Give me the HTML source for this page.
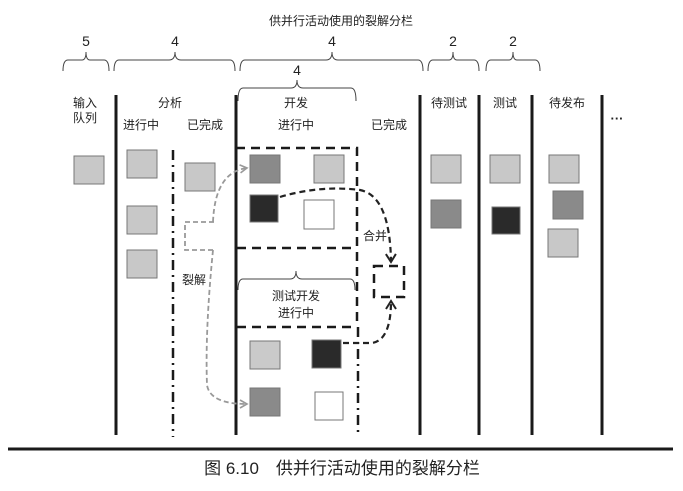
<!DOCTYPE html>
<html><head><meta charset="utf-8"><style>
html,body{margin:0;padding:0;background:#fff;}
svg{display:block;}
text{font-family:"Liberation Sans","Noto Sans CJK SC",sans-serif;fill:#222;}
</style></head><body>
<svg width="683" height="491" viewBox="0 0 683 491" xmlns="http://www.w3.org/2000/svg">
<defs>
<marker id="ga" markerWidth="10" markerHeight="10" refX="8" refY="5" orient="auto" markerUnits="userSpaceOnUse"><path d="M1,1 L8,5 L1,9" fill="none" stroke="#999" stroke-width="1.6"/></marker>
<marker id="ba" markerWidth="12" markerHeight="12" refX="9" refY="6" orient="auto" markerUnits="userSpaceOnUse"><path d="M1,1 L9,6 L1,11" fill="none" stroke="#222" stroke-width="2"/></marker>
</defs>
<text x="341" y="25" font-size="12" text-anchor="middle">供并行活动使用的裂解分栏</text>
<g font-size="14" text-anchor="middle">
<text x="86" y="46">5</text><text x="175" y="46">4</text><text x="332" y="46">4</text>
<text x="453" y="46">2</text><text x="513" y="46">2</text><text x="297" y="75">4</text>
</g>
<g fill="none" stroke="#444" stroke-width="1">
<path d="M63,71 Q63,60 68,60 L82,60 Q86,60 86,52 Q86,60 90,60 L104,60 Q109,60 109,71"/>
<path d="M114,71 Q114,60 119,60 L169,60 Q175,60 175,52 Q175,60 181,60 L230,60 Q235,60 235,71"/>
<path d="M240,71 Q240,60 245,60 L326,60 Q332,60 332,52 Q332,60 338,60 L418,60 Q423,60 423,71"/>
<path d="M428,71 Q428,60 433,60 L449,60 Q453,60 453,52 Q453,60 457,60 L474,60 Q479,60 479,71"/>
<path d="M486,71 Q486,60 491,60 L509,60 Q513,60 513,52 Q513,60 517,60 L535,60 Q540,60 540,71"/>
<path d="M238,101 Q238,88 243,88 L291,88 Q297,88 297,80 Q297,88 303,88 L351,88 Q356,88 356,101"/>
<path d="M238,290 Q238,279 243,279 L290,279 Q296,279 296,271 Q296,279 302,279 L350,279 Q355,279 355,290"/>
</g>
<g font-size="12" text-anchor="middle">
<text x="85" y="107">输入</text><text x="85" y="122">队列</text>
<text x="170" y="107">分析</text><text x="141" y="129">进行中</text><text x="205" y="129">已完成</text>
<text x="296" y="107">开发</text><text x="296" y="129">进行中</text><text x="389" y="129">已完成</text>
<text x="449" y="107">待测试</text><text x="505" y="107">测试</text><text x="567" y="107">待发布</text>
<text x="617" y="123" font-weight="bold" font-size="13">···</text>
<text x="296" y="300">测试开发</text><text x="296" y="317">进行中</text>
<text x="194" y="284">裂解</text><text x="375" y="240">合并</text>
</g>
<g stroke="#1a1a1a" stroke-width="3">
<line x1="116" y1="95" x2="116" y2="435"/><line x1="236" y1="95" x2="236" y2="435"/>
<line x1="420" y1="95" x2="420" y2="435"/><line x1="479" y1="95" x2="479" y2="435"/>
<line x1="532" y1="95" x2="532" y2="435"/><line x1="602" y1="95" x2="602" y2="435"/>
<line x1="8" y1="449" x2="673" y2="449"/>
</g>
<g stroke="#1a1a1a" stroke-width="2.5" stroke-dasharray="10,5,2,5">
<line x1="173" y1="150" x2="173" y2="437"/>
<line x1="358" y1="327" x2="358" y2="437"/>
</g>
<g fill="none" stroke="#1a1a1a" stroke-width="2.5" stroke-dasharray="9,6">
<path d="M236,148 L357,148 L357,327"/>
<line x1="237" y1="248" x2="357" y2="248"/>
<line x1="237" y1="327" x2="357" y2="327"/>
<rect x="374" y="266" width="30" height="31"/>
</g>
<g stroke="#777" stroke-width="1">
<rect x="74" y="156" width="30" height="28" fill="#c8c8c8"/>
<rect x="127" y="150" width="30" height="28" fill="#c8c8c8"/>
<rect x="127" y="206" width="30" height="28" fill="#c8c8c8"/>
<rect x="127" y="250" width="30" height="28" fill="#c8c8c8"/>
<rect x="185" y="163" width="30" height="28" fill="#c8c8c8"/>
<rect x="250" y="155" width="30" height="28" fill="#8a8a8a"/>
<rect x="314" y="155" width="30" height="28" fill="#c8c8c8"/>
<rect x="250" y="195" width="28" height="27" fill="#2a2a2a"/>
<rect x="304" y="200" width="30" height="29" fill="#fff"/>
<rect x="250" y="341" width="30" height="28" fill="#cacaca"/>
<rect x="312" y="340" width="29" height="28" fill="#2a2a2a"/>
<rect x="250" y="388" width="30" height="28" fill="#8a8a8a"/>
<rect x="315" y="392" width="28" height="28" fill="#fff"/>
<rect x="431" y="155" width="30" height="28" fill="#c8c8c8"/>
<rect x="431" y="200" width="30" height="28" fill="#8a8a8a"/>
<rect x="490" y="155" width="30" height="28" fill="#c8c8c8"/>
<rect x="492" y="207" width="28" height="27" fill="#2a2a2a"/>
<rect x="549" y="155" width="30" height="28" fill="#c8c8c8"/>
<rect x="553" y="191" width="30" height="28" fill="#8a8a8a"/>
<rect x="548" y="229" width="30" height="28" fill="#c8c8c8"/>
</g>
<g fill="none" stroke="#999" stroke-width="1.8" stroke-dasharray="5,3">
<path d="M214,222 L185,222 L185,250 L214,250"/>
<path d="M213,222 Q215,172 247,168" marker-end="url(#ga)"/>
<path d="M213,250 Q205,330 207,385 Q210,404 247,404" marker-end="url(#ga)"/>
</g>
<g fill="none" stroke="#222" stroke-width="2.2" stroke-dasharray="6,4">
<path d="M280,197 Q320,185 360,190 Q390,196 391,262" marker-end="url(#ba)"/>
<path d="M343,343 L372,343 Q391,340 391,301" marker-end="url(#ba)"/>
</g>
<text x="342" y="474" font-size="17" text-anchor="middle">图 6.10　供并行活动使用的裂解分栏</text>
</svg>
</body></html>
